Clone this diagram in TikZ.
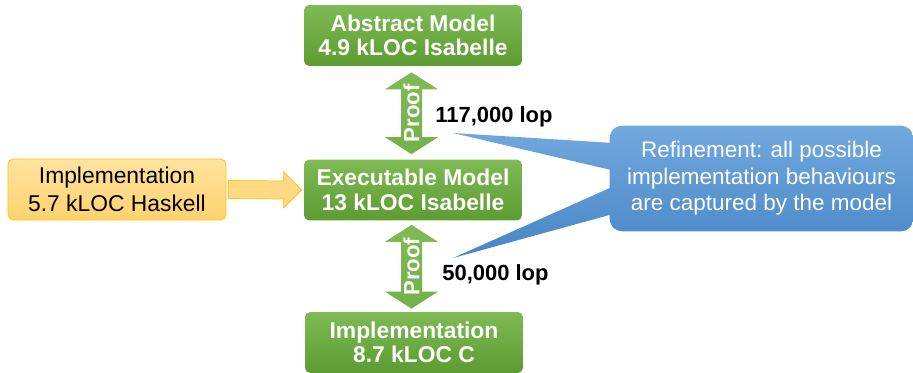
\documentclass[tikz,border=0pt]{standalone}
\usepackage{fontspec}
\setmainfont{Liberation Sans}
\usetikzlibrary{calc}
\usetikzlibrary{backgrounds}

\definecolor{grtop}{HTML}{7FBA55}
\definecolor{grbot}{HTML}{5C9C31}
\definecolor{ortop}{HTML}{FFE3A0}
\definecolor{orbot}{HTML}{FFD26E}
\definecolor{orline}{HTML}{FFC000}
\definecolor{bltop}{HTML}{72A9DE}
\definecolor{blbot}{HTML}{4785C6}

\tikzset{
  greenbox/.style={rounded corners=3pt, top color=grtop, bottom color=grbot,
    minimum width=4.36cm, minimum height=1.22cm, inner sep=0pt, align=center,
    text=white, font=\fontsize{13}{14}\selectfont\bfseries},
  orangebox/.style={rounded corners=3pt, top color=ortop, bottom color=orbot,
    draw=orline, minimum width=4.36cm, minimum height=1.22cm, inner sep=0pt,
    align=center, font=\fontsize{13}{16}\selectfont},
  orangearrow/.style={fill=orbot!85!white, draw=orline, line join=miter},
  proofshade/.style={top color=grtop, bottom color=grtop!70!grbot},
  prooftext/.style={rotate=90, inner sep=0pt, text=white,
    font=\fontsize{12.6}{13}\selectfont\bfseries},
  loplabel/.style={anchor=west, inner sep=0pt, font=\fontsize{12.5}{14}\selectfont\bfseries},
  calloutbox/.style={minimum width=6.06cm, minimum height=2.1cm, inner sep=0pt,
    align=center, text=white, font=\fontsize{12.8}{15.1}\selectfont},
  calloutshade/.style={top color=bltop, bottom color=blbot}
}

% double headed block arrow between two coordinates, with rotated label
\newcommand{\proofarrow}[3]{%
  \shade[proofshade] (#1) -- ++(26.5,17) -- ++(-16,0) -- ($(#2)+(10.5,-17)$) -- ++(16,0)
    -- (#2) -- ++(-26.5,-17) -- ++(16,0) -- ($(#1)+(-10.5,17)$) -- ++(-16,0) -- cycle;
  \node[prooftext] (#3) at ($(#1)!0.5!(#2)$) {Proof};
}

\begin{document}
\begin{tikzpicture}[x=0.02cm,y=-0.02cm]
  \useasboundingbox (0,0) rectangle (913,372);

  \node[greenbox] (abs) at (413,35.5) {Abstract Model\\4.9 kLOC Isabelle};
  \node[greenbox] (exe) at (413,190) {Executable Model\\13 kLOC Isabelle};
  \node[greenbox] (impc) at (414,342.5) {Implementation\\8.7 kLOC C};
  \node[orangebox] (hask) at (117,189.5) {Implementation\\5.7 kLOC Haskell};

  % block arrow Haskell -> executable model
  \coordinate (oa) at ($(hask.east)+(2,0)$);
  \coordinate (ob) at ($(exe.west)+(-2,0)$);
  \draw[orangearrow] ($(oa)+(0,-9)$) -- ($(ob)+(-18,-9)$) -- ($(ob)+(-18,-18)$) -- (ob)
    -- ($(ob)+(-18,18)$) -- ($(ob)+(-18,9)$) -- ($(oa)+(0,9)$) -- cycle;

  % proof arrows
  \coordinate (pa1) at ($(abs.south)+(-1.5,6)$);
  \coordinate (pa2) at ($(exe.north)+(-1.5,-5)$);
  \proofarrow{pa1}{pa2}{proofA}
  \coordinate (pb1) at ($(exe.south)+(-1.5,4)$);
  \coordinate (pb2) at ($(impc.north)+(-2.5,-3)$);
  \proofarrow{pb1}{pb2}{proofB}

  \node[loplabel] (lopA) at (435,117) {117,000 lop};
  \node[loplabel] (lopB) at (442,275) {50,000 lop};

  \node[calloutbox] (refine) at (761.5,178.5)
    {Refinement: all possible\\implementation behaviours\\are captured by the model};

  \begin{scope}[on background layer]
    \coordinate (tipA) at (453,133);
    \coordinate (tipB) at (453,258);
    \shade[calloutshade, rounded corners=7pt] (refine.north west) -- (refine.north east)
      -- (refine.south east) -- (refine.south west) -- cycle
      [sharp corners] (tipA) -- ($(refine.north west)+(30,19)$) -- ($(refine.north west)+(30,51)$) -- cycle
      (tipB) -- ($(refine.north west)+(30,49)$) -- ($(refine.north west)+(30,81)$) -- cycle;
  \end{scope}
\end{tikzpicture}
\end{document}
